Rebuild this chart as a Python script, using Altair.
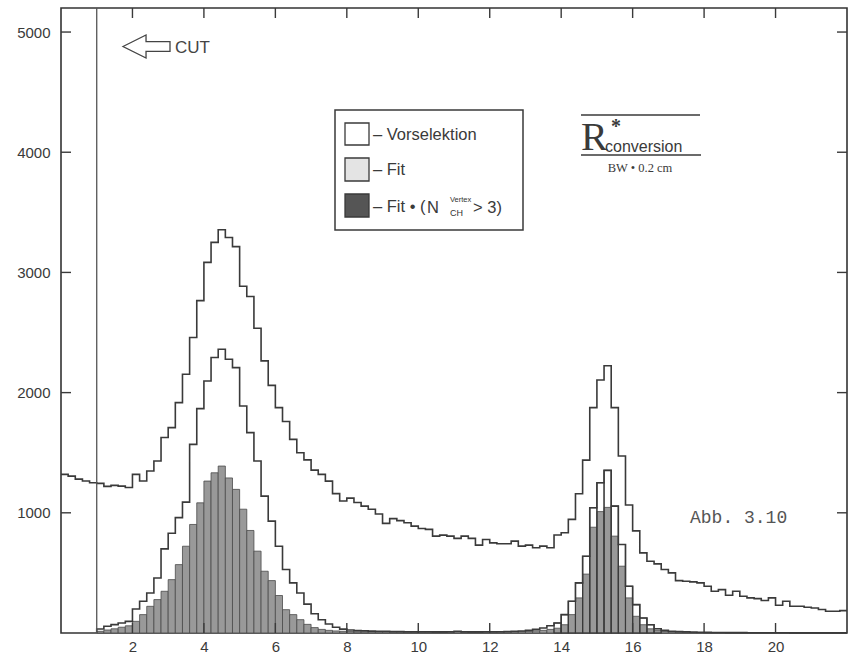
import altair as alt
import pandas as pd

# ---------------- data (bin width 0.2 cm) -------------
BIN_W = 0.2
X_MAX = 22.0
Y_MAX = 5200
CUT = 1.0

vorselektion = [
    1320, 1305, 1280, 1265, 1250, 1245, 1220, 1228, 1222, 1210,   # 0.0 - 2.0
    1320, 1265, 1348, 1431, 1626, 1709, 1917, 2153, 2459, 2765,   # 2.0 - 4.0
    3084, 3250, 3355, 3290, 3215, 2885, 2800, 2535, 2264, 2060,   # 4.0 - 6.0
    1875, 1760, 1611, 1500, 1440, 1355, 1320, 1264, 1160, 1098,   # 6.0 - 8.0
    1122, 1086, 1056, 1030, 990, 912, 952, 935, 917, 889,         # 8.0 - 10.0
    870, 862, 806, 814, 806, 787, 806, 787, 731, 778,             # 10.0 - 12.0
    750, 742, 742, 764, 723, 731, 709, 723, 709, 815,             # 12.0 - 14.0
    834, 945, 1158, 1438, 1875, 2105, 2223, 1875, 1473, 1065,     # 14.0 - 16.0
    850, 667, 597, 575, 528, 500, 436, 431, 425, 417,             # 16.0 - 18.0
    389, 347, 361, 314, 347, 306, 292, 286, 270, 292,             # 18.0 - 20.0
    231, 264, 222, 222, 214, 208, 195, 181, 181, 186,             # 20.0 - 22.0
]

fit = [
    0, 0, 0, 0, 0, 33, 56, 70, 83, 97,
    200, 264, 333, 458, 700, 830, 960, 1089, 1569, 1867,
    2097, 2292, 2361, 2278, 2208, 1889, 1667, 1431, 1139, 931,
    722, 528, 417, 333, 240, 160, 110, 75, 48, 32,
    25, 20, 18, 16, 15, 14, 12, 12, 11, 10,
    10, 10, 9, 9, 10, 14, 10, 9, 9, 10,
    10, 11, 12, 14, 17, 22, 30, 42, 60, 83,
    153, 264, 417, 639, 1042, 1250, 1353, 1056, 736, 389,
    236, 125, 69, 35, 22, 15, 12, 10, 8, 6,
    5, 4, 4, 3, 3, 3, 2, 2, 2, 2,
    2, 2, 1, 1, 1, 1, 1, 1, 1, 1,
]

fit_nch3 = [
    0, 0, 0, 0, 0, 14, 25, 35, 48, 60,
    97, 153, 222, 278, 347, 444, 569, 722, 903, 1083,
    1264, 1333, 1389, 1290, 1195, 1030, 853, 681, 514, 436,
    312, 194, 153, 111, 72, 45, 30, 22, 17, 14,
    12, 10, 9, 9, 8, 8, 7, 7, 7, 6,
    6, 6, 6, 6, 7, 10, 6, 6, 6, 7,
    7, 8, 8, 9, 11, 14, 18, 22, 30, 40,
    69, 153, 292, 490, 880, 1010, 1045, 806, 556, 292,
    139, 69, 35, 20, 12, 8, 6, 5, 4, 3,
    3, 2, 2, 2, 2, 1, 1, 1, 1, 1,
    1, 1, 1, 1, 1, 1, 1, 1, 1, 1,
]

x_tick_values = [2, 4, 6, 8, 10, 12, 14, 16, 18, 20]
y_tick_values = [1000, 2000, 3000, 4000, 5000]

N = len(vorselektion)
assert len(fit) == N and len(fit_nch3) == N

# ---------------- tables built from the arrays ----------------
bins = pd.DataFrame({
    "x0": [round(k * BIN_W, 2) for k in range(N)],
    "x1": [round((k + 1) * BIN_W, 2) for k in range(N)],
    "fit": fit,
    "dark": fit_nch3,
    "base": [0] * N,
})
first_fit = int(round(CUT / BIN_W))


def step_points(values, start):
    pts = []
    if start > 0:
        pts.append({"x": start * BIN_W, "v": 0})
    for k in range(start, N):
        pts.append({"x": round(k * BIN_W, 2), "v": values[k]})
    pts.append({"x": round(N * BIN_W, 2), "v": values[-1]})
    for i, p in enumerate(pts):
        p["i"] = i
    return pd.DataFrame(pts)


vor_line = step_points(vorselektion, 0)
fit_line = step_points(fit, first_fit)

# ---------------- layout / style ----------------
W, H = 786, 625
INK = "#3a3a3a"
LW = 1.6

xs = alt.Scale(domain=[0, X_MAX], nice=False, zero=False)
ys = alt.Scale(domain=[0, Y_MAX], nice=False, zero=False)
xax = alt.Axis(values=x_tick_values, title=None, labelPadding=6, format="d")
yax = alt.Axis(values=y_tick_values, title=None, labelPadding=11, format="d")

layers = []

# dark filled histogram  Fit*(N_CH > 3)
layers.append(
    alt.Chart(bins).transform_filter(alt.datum.dark > 0).mark_rect(
        fill="#999999", stroke="#4a4a4a", strokeWidth=0.8
    ).encode(
        x=alt.X("x0:Q", scale=xs, axis=xax), x2="x1:Q",
        y=alt.Y("base:Q", scale=ys, axis=yax), y2="dark:Q",
    )
)
# Fit boxes around the second peak
layers.append(
    alt.Chart(bins).transform_filter(
        (alt.datum.x0 >= 13.8) & (alt.datum.x0 < 16.8)
    ).mark_rect(fillOpacity=0, stroke=INK, strokeWidth=1.1).encode(
        x=alt.X("x0:Q", scale=xs, axis=xax), x2="x1:Q",
        y=alt.Y("base:Q", scale=ys, axis=yax), y2="fit:Q",
    )
)
# Fit outline
layers.append(
    alt.Chart(fit_line).mark_line(interpolate="step-after", color=INK, strokeWidth=LW).encode(
        x=alt.X("x:Q", scale=xs, axis=xax), y=alt.Y("v:Q", scale=ys, axis=yax),
        order="i:Q",
    )
)
# Vorselektion outline
layers.append(
    alt.Chart(vor_line).mark_line(interpolate="step-after", color=INK, strokeWidth=LW).encode(
        x=alt.X("x:Q", scale=xs, axis=xax), y=alt.Y("v:Q", scale=ys, axis=yax),
        order="i:Q",
    )
)
# cut line
layers.append(
    alt.Chart(pd.DataFrame({"c": [CUT]})).mark_rule(color="#555", strokeWidth=1.3).encode(
        x=alt.X("c:Q", scale=xs, axis=xax), y=alt.value(0), y2=alt.value(H)
    )
)

# inner ticks on all four sides
ydf = pd.DataFrame({"t": y_tick_values})
xdf = pd.DataFrame({"t": x_tick_values})
TL = 10
for xa, xb in [(0, TL), (W, W - TL)]:
    layers.append(
        alt.Chart(ydf).mark_rule(color=INK, strokeWidth=1.4).encode(
            y=alt.Y("t:Q", scale=ys, axis=yax), x=alt.value(xa), x2=alt.value(xb)
        )
    )
for ya, yb in [(H, H - TL), (0, TL)]:
    layers.append(
        alt.Chart(xdf).mark_rule(color=INK, strokeWidth=1.4).encode(
            x=alt.X("t:Q", scale=xs, axis=xax), y=alt.value(ya), y2=alt.value(yb)
        )
    )

ONE = alt.Data(values=[{"k": 0}])


def text(s, px, py, size, font="Liberation Sans", align="left", baseline="middle",
         color=INK, weight="normal"):
    return alt.Chart(alt.Data(values=[{"t": s}])).mark_text(
        font=font, fontSize=size, align=align, baseline=baseline, color=color,
        fontWeight=weight,
    ).encode(x=alt.value(px), y=alt.value(py), text="t:N")


def box(x1, y1, x2, y2, fill="white", stroke=INK, sw=1.3):
    return alt.Chart(ONE).mark_rect(fill=fill, stroke=stroke, strokeWidth=sw).encode(
        x=alt.value(x1), x2=alt.value(x2), y=alt.value(y1), y2=alt.value(y2)
    )


def hline(x1, x2, y, sw=1.3, color=INK):
    return alt.Chart(ONE).mark_rule(color=color, strokeWidth=sw).encode(
        x=alt.value(x1), x2=alt.value(x2), y=alt.value(y)
    )


# CUT arrow and label
arrow_path = ("M -1 0 L -0.02 -0.49 L -0.02 -0.21 L 1 -0.21 L 1 0.21 "
              "L -0.02 0.21 L -0.02 0.49 Z")
layers.append(
    alt.Chart(ONE).mark_point(shape=arrow_path, size=2209, filled=False,
                              stroke="#444", strokeWidth=1.3, opacity=1).encode(
        x=alt.value(85.5), y=alt.value(38.5)
    )
)
layers.append(text("CUT", 114, 39.5, 17, color="#444"))

# legend box
layers.append(box(274, 102, 462, 222, sw=1.5))
layers.append(box(284, 115, 308, 137))
layers.append(box(284, 150, 308, 173, fill="#e4e4e4"))
layers.append(box(284, 186, 308, 209, fill="#555555"))
layers.append(text("– Vorselektion", 312, 127, 16.5))
layers.append(text("– Fit", 312, 162, 16.5))
layers.append(text("– Fit • (", 312, 199, 16.5))
layers.append(text("N", 366, 200, 16.5))
layers.append(text("Vertex", 389, 192, 7.5, color="#333"))
layers.append(text("CH", 389, 205, 9, color="#333"))
layers.append(text("> 3)", 412, 200, 16.5))

# R*_conversion title block
layers.append(hline(520, 639, 107))
layers.append(hline(520, 640, 147))
layers.append(text("R", 520, 142, 40, font="Liberation Serif", baseline="alphabetic"))
layers.append(text("*", 550, 109, 20, font="Liberation Serif", baseline="top", weight="bold"))
layers.append(text("conversion", 544, 144, 16, baseline="alphabetic"))
layers.append(text("BW • 0.2 cm", 579, 160, 12.5, font="Liberation Serif", align="center"))

# figure number
layers.append(text("Abb. 3.10", 629, 510, 18, font="Liberation Mono", color="#555"))

chart = alt.layer(*layers).properties(
    width=W, height=H,
    padding={"left": 61, "top": 8, "right": 9, "bottom": 25},
    autosize=alt.AutoSizeParams(type="none"),
    background="white",
).configure_view(
    stroke="#333", strokeWidth=1.6
).configure_axis(
    domain=False, ticks=False, tickSize=0, grid=False,
    labelFont="Liberation Sans", labelFontSize=15, labelColor="#3a3a3a",
)

chart.save("out.html", embed_options={"renderer": "svg", "actions": False})
